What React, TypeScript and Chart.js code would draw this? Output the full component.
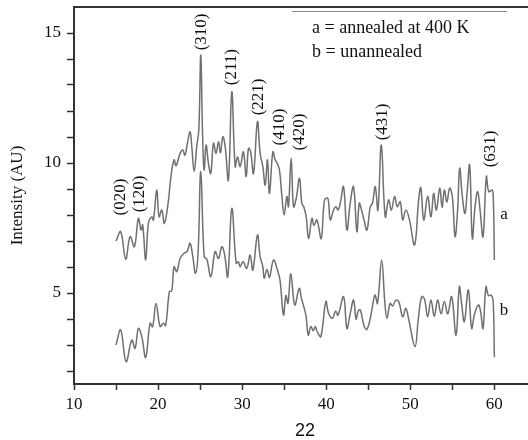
import React, { useEffect, useRef } from "react";
import { Chart, registerables } from "chart.js";

Chart.register(...registerables);

// Curve a: annealed at 400 K
const aX = [15.0, 15.55, 16.15, 16.67, 17.18, 17.66, 17.98, 18.17, 18.53, 18.85, 19.25, 19.45, 19.84, 20.12, 20.44, 20.75, 21.23, 21.5, 21.9, 22.14, 22.62, 22.94, 23.2, 23.49, 23.81, 24.01, 24.29, 24.6, 24.85, 25.08, 25.3, 25.48, 25.71, 25.99, 26.27, 26.59, 26.9, 27.18, 27.42, 27.7, 27.98, 28.37, 28.77, 29.17, 29.45, 29.76, 30.15, 30.48, 30.75, 31.0, 31.35, 31.82, 32.14, 32.46, 32.74, 33.01, 33.25, 33.65, 33.93, 34.15, 34.44, 34.73, 35.0, 35.32, 35.51, 35.83, 36.11, 36.43, 36.82, 37.1, 37.35, 37.62, 37.9, 38.3, 38.55, 38.89, 39.4, 39.8, 40.2, 40.48, 40.87, 41.15, 41.4, 41.67, 42.06, 42.46, 42.85, 43.25, 43.65, 43.93, 44.2, 44.5, 44.84, 45.24, 45.5, 45.83, 46.15, 46.55, 47.02, 47.42, 47.75, 48.13, 48.45, 48.81, 49.09, 49.48, 49.9, 50.51, 51.0, 51.25, 51.6, 52.06, 52.46, 52.78, 53.1, 53.5, 53.78, 54.05, 54.35, 54.68, 55.0, 55.32, 55.63, 55.87, 56.19, 56.51, 56.75, 57.06, 57.38, 57.7, 58.01, 58.3, 58.65, 59.05, 59.33, 59.73, 59.87, 60.0];
const aY = [7.0, 7.36, 6.3, 7.17, 6.78, 7.87, 7.42, 7.62, 6.27, 7.68, 7.93, 7.8, 8.96, 7.93, 8.19, 7.68, 8.55, 9.41, 10.12, 9.9, 10.37, 10.5, 10.3, 10.76, 11.2, 10.63, 9.67, 10.63, 11.3, 14.15, 11.0, 9.73, 10.69, 9.99, 9.6, 10.76, 10.37, 10.82, 10.4, 11.01, 10.63, 9.35, 12.74, 9.86, 10.24, 9.86, 10.43, 9.48, 10.56, 10.45, 9.6, 11.59, 10.37, 9.86, 9.15, 10.12, 8.83, 10.43, 10.12, 10.0, 9.73, 8.71, 8.0, 8.71, 8.32, 10.18, 8.32, 8.64, 9.41, 8.45, 8.3, 7.93, 7.1, 7.87, 7.6, 7.81, 7.1, 8.58, 8.64, 7.81, 8.19, 8.32, 8.19, 8.45, 9.09, 7.42, 8.45, 9.09, 7.36, 8.45, 8.19, 7.81, 7.42, 8.32, 8.45, 9.09, 8.19, 10.69, 7.93, 8.58, 8.19, 8.71, 8.32, 8.51, 7.81, 8.19, 7.81, 6.85, 8.6, 9.05, 7.81, 8.71, 7.93, 8.83, 8.19, 9.03, 8.3, 8.96, 8.5, 9.03, 8.71, 7.17, 8.19, 9.8, 8.71, 8.06, 8.83, 9.92, 7.1, 8.32, 8.9, 8.19, 7.17, 9.48, 8.9, 8.96, 8.7, 6.27];

// Curve b: unannealed
const bX = [15.0, 15.55, 16.19, 16.87, 17.26, 17.66, 18.06, 18.53, 19.05, 19.35, 19.76, 20.24, 20.63, 20.9, 21.35, 21.63, 21.9, 22.22, 22.62, 23.1, 23.45, 23.81, 24.13, 24.44, 24.75, 25.08, 25.48, 25.8, 26.27, 26.79, 27.18, 27.58, 27.9, 28.29, 28.77, 29.29, 29.55, 29.76, 30.1, 30.55, 30.95, 31.27, 31.82, 32.14, 32.46, 32.62, 32.95, 33.25, 33.73, 34.2, 34.5, 34.92, 35.2, 35.45, 35.79, 36.26, 36.79, 37.05, 37.58, 37.86, 38.17, 38.45, 38.7, 38.95, 39.36, 39.96, 40.3, 40.75, 41.1, 41.4, 42.06, 42.46, 42.85, 43.25, 43.55, 43.8, 44.05, 44.52, 44.85, 45.32, 45.79, 46.1, 46.59, 46.98, 47.22, 47.6, 47.9, 48.29, 48.65, 49.09, 49.48, 49.8, 50.56, 50.95, 51.35, 51.7, 52.06, 52.46, 52.85, 53.25, 53.65, 54.05, 54.45, 54.92, 55.44, 55.83, 56.1, 56.43, 56.9, 57.3, 57.65, 58.1, 58.35, 58.65, 59.0, 59.3, 59.6, 59.85, 60.0];
const bY = [3.0, 3.58, 2.36, 3.19, 2.87, 3.64, 3.32, 2.52, 3.84, 3.7, 4.6, 3.71, 3.84, 3.75, 5.05, 5.09, 6.01, 5.82, 6.33, 6.53, 6.6, 6.91, 6.4, 5.76, 6.5, 9.67, 6.4, 6.3, 5.63, 6.59, 6.33, 6.78, 6.5, 5.63, 8.26, 6.14, 6.2, 6.01, 6.2, 5.95, 6.46, 5.88, 7.23, 6.4, 6.01, 5.57, 5.9, 5.6, 6.27, 5.88, 5.5, 4.15, 4.9, 4.6, 5.74, 4.54, 5.18, 4.8, 4.15, 3.38, 3.71, 3.55, 3.7, 3.5, 3.32, 4.67, 4.2, 4.03, 4.3, 4.15, 4.86, 3.64, 4.2, 4.73, 4.0, 4.3, 4.35, 3.71, 3.6, 4.15, 4.92, 4.6, 6.27, 4.6, 4.03, 4.6, 4.5, 4.73, 4.65, 4.09, 4.41, 4.0, 2.94, 4.0, 4.86, 4.75, 4.09, 4.73, 4.1, 4.73, 4.2, 4.67, 4.2, 4.86, 3.38, 5.24, 4.6, 3.9, 5.12, 3.64, 4.2, 4.54, 4.3, 3.64, 5.24, 4.9, 4.92, 4.7, 2.54];

// Peak (hkl) annotations: label, x position, label centre (data units)
const peakNames = ["(020)", "(120)", "(310)", "(211)", "(221)", "(410)", "(420)", "(431)", "(631)"];
const peakX = [15.48, 17.74, 25.2, 28.77, 31.94, 34.4, 36.79, 46.7, 59.6];
const peakLabelY = [8.69, 8.81, 15.04, 13.69, 12.54, 11.38, 11.19, 11.58, 10.54];

const legendLines = ["a = annealed at 400 K", "b = unannealed"];
const seriesNames = ["a", "b"];
const seriesLabelY = [8.0, 4.31];

const yTitle = "Intensity (AU)";
const xTitle = "22";

const SERIF = "'Liberation Serif', 'Times New Roman', serif";
const SANS = "'Liberation Sans', Arial, sans-serif";

const annotPlugin = {
  id: "annot",
  afterDraw(chart: any) {
    const { ctx, chartArea, scales } = chart;
    const xs = scales.x;
    const ys = scales.y;
    ctx.save();
    // top frame line
    ctx.strokeStyle = "#333";
    ctx.lineWidth = 2;
    ctx.beginPath();
    ctx.moveTo(chartArea.left, chartArea.top);
    ctx.lineTo(chartArea.right, chartArea.top);
    ctx.stroke();

    // legend rule
    ctx.strokeStyle = "#888";
    ctx.lineWidth = 1;
    ctx.beginPath();
    ctx.moveTo(292, chartArea.top + 4.5);
    ctx.lineTo(507, chartArea.top + 4.5);
    ctx.stroke();

    ctx.fillStyle = "#111";
    ctx.font = `18px ${SERIF}`;
    ctx.textAlign = "left";
    ctx.textBaseline = "middle";
    ctx.fillText(legendLines[0], 312, chartArea.top + 21);
    ctx.fillText(legendLines[1], 312, chartArea.top + 45);

    // series labels
    ctx.font = `17px ${SERIF}`;
    ctx.textAlign = "center";
    for (let i = 0; i < seriesNames.length; i++) {
      ctx.fillText(seriesNames[i], 504, ys.getPixelForValue(seriesLabelY[i]));
    }

    // peak labels
    ctx.font = `17px ${SERIF}`;
    for (let i = 0; i < peakNames.length; i++) {
      const px = xs.getPixelForValue(peakX[i]);
      const py = ys.getPixelForValue(peakLabelY[i]);
      ctx.save();
      ctx.translate(px, py);
      ctx.rotate(-Math.PI / 2);
      ctx.textAlign = "center";
      ctx.textBaseline = "middle";
      ctx.fillText(peakNames[i], 0, 0);
      ctx.restore();
    }

    // axis titles
    ctx.save();
    ctx.translate(18, (chartArea.top + chartArea.bottom) / 2);
    ctx.rotate(-Math.PI / 2);
    ctx.font = `17px ${SERIF}`;
    ctx.textAlign = "center";
    ctx.textBaseline = "middle";
    ctx.fillText(yTitle, 0, 0);
    ctx.restore();

    ctx.font = `18px ${SANS}`;
    ctx.textAlign = "center";
    ctx.textBaseline = "middle";
    ctx.fillText(xTitle, 305, 431);
    ctx.restore();
  },
};

export default function App() {
  const ref = useRef<HTMLCanvasElement | null>(null);
  useEffect(() => {
    const canvas = ref.current;
    if (!canvas) return;
    const chart = new Chart(canvas, {
      type: "line",
      data: {
        datasets: [
          {
            label: "a",
            data: aX.map((x, i) => ({ x, y: aY[i] })),
            borderColor: "#707070",
            borderWidth: 1.5,
            pointRadius: 0,
            tension: 0.4,
            fill: false,
          },
          {
            label: "b",
            data: bX.map((x, i) => ({ x, y: bY[i] })),
            borderColor: "#707070",
            borderWidth: 1.5,
            pointRadius: 0,
            tension: 0.4,
            fill: false,
          },
        ],
      },
      options: {
        animation: false,
        responsive: false,
        maintainAspectRatio: false,
        layout: { padding: { top: 7, left: 0, right: 0, bottom: 0 } },
        plugins: { legend: { display: false }, tooltip: { enabled: false } },
        scales: {
          x: {
            type: "linear",
            min: 10,
            max: 64,
            ticks: {
              stepSize: 5,
              includeBounds: false,
              autoSkip: false,
              maxRotation: 0,
              callback: (v: any) => (Number(v) % 10 === 0 ? String(v) : ""),
              font: { family: SERIF, size: 17 },
              color: "#111",
              padding: 4,
            },
            grid: { drawOnChartArea: false, drawTicks: true, tickLength: 6, tickColor: "#333", tickWidth: 1.5 },
            border: { display: true, color: "#333", width: 2 },
            afterFit: (s: any) => {
              s.height = 56;
              s.paddingLeft = 0;
              s.paddingRight = 0;
            },
          },
          y: {
            type: "linear",
            min: 1.5,
            max: 16,
            ticks: {
              stepSize: 1,
              includeBounds: false,
              autoSkip: false,
              callback: (v: any) => (Number(v) % 5 === 0 ? String(v) : ""),
              font: { family: SERIF, size: 17 },
              color: "#111",
              padding: 6,
            },
            grid: { drawOnChartArea: false, drawTicks: true, tickLength: 7, tickColor: "#333", tickWidth: 1.5 },
            border: { display: true, color: "#333", width: 2 },
            afterBuildTicks: (s: any) => {
              s.ticks = s.ticks.filter((t: any) => t.value < 15.9);
            },
            afterFit: (s: any) => {
              s.width = 74;
              s.paddingTop = 0;
              s.paddingBottom = 0;
            },
          },
        },
      },
      plugins: [annotPlugin],
    } as any);
    return () => chart.destroy();
  }, []);
  return (
    <div style={{ position: "fixed", left: 0, top: 0, width: 528, height: 440, background: "#fff" }}>
      <canvas ref={ref} width={528} height={440} style={{ display: "block" }} />
    </div>
  );
}
